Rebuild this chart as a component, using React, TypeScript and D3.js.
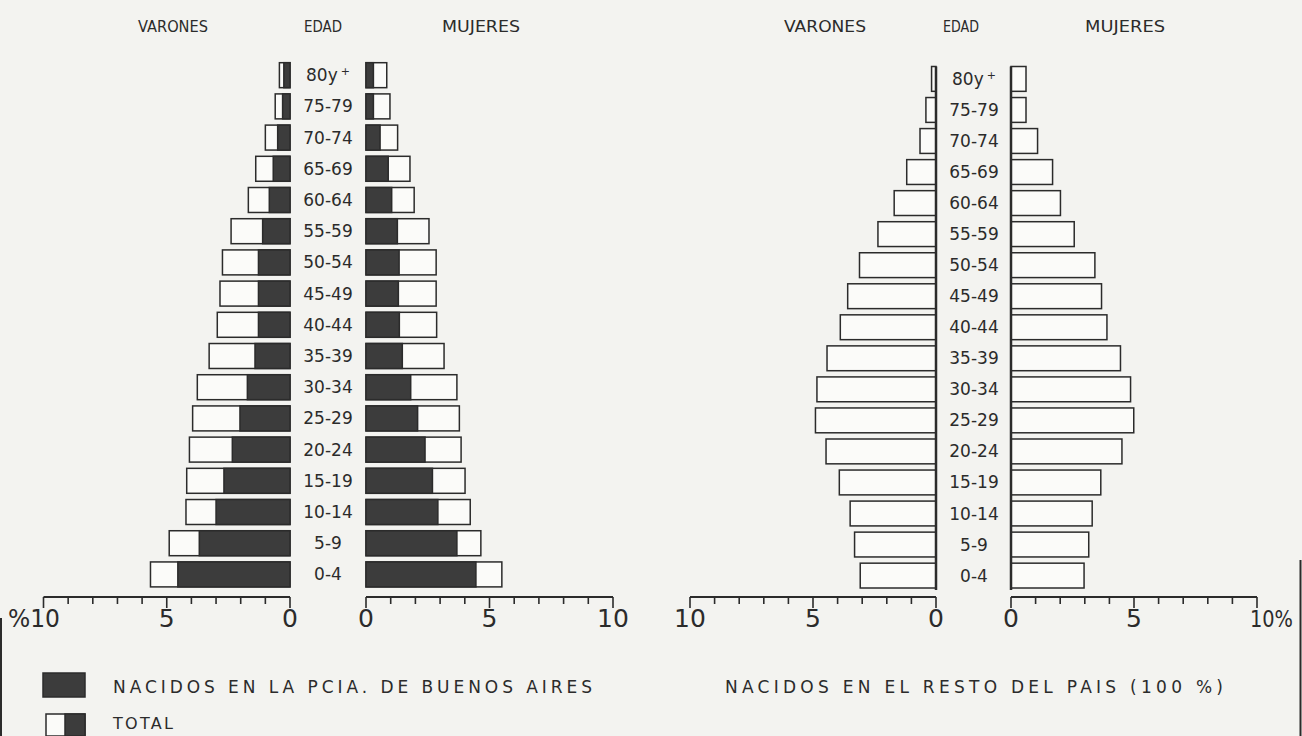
import React from "react";
import * as d3 from "d3";

// age groups, top to bottom
const ages = [
  "80y+", "75-79", "70-74", "65-69", "60-64", "55-59", "50-54", "45-49", "40-44",
  "35-39", "30-34", "25-29", "20-24", "15-19", "10-14", "5-9", "0-4",
];

// left pyramid: total population and those born in the province (percent)
const menTotal = [0.43, 0.6, 1.0, 1.39, 1.69, 2.39, 2.74, 2.84, 2.95, 3.28, 3.76, 3.95, 4.08, 4.19, 4.22, 4.9, 5.66];
const menBA = [0.25, 0.3, 0.5, 0.68, 0.84, 1.11, 1.28, 1.28, 1.28, 1.42, 1.73, 2.03, 2.34, 2.68, 3.0, 3.68, 4.55];
const womenTotal = [0.84, 0.97, 1.28, 1.78, 1.95, 2.55, 2.84, 2.84, 2.86, 3.16, 3.68, 3.78, 3.85, 4.01, 4.22, 4.65, 5.5];
const womenBA = [0.3, 0.3, 0.57, 0.9, 1.04, 1.27, 1.34, 1.31, 1.35, 1.47, 1.81, 2.09, 2.39, 2.69, 2.91, 3.68, 4.45];

// right pyramid: born in the rest of the country
const menRest = [0.18, 0.41, 0.65, 1.19, 1.7, 2.36, 3.11, 3.59, 3.89, 4.43, 4.84, 4.9, 4.47, 3.93, 3.49, 3.31, 3.08];
const womenRest = [0.61, 0.61, 1.08, 1.69, 2.01, 2.57, 3.41, 3.68, 3.9, 4.45, 4.86, 4.99, 4.51, 3.65, 3.3, 3.16, 2.97];

const tickValues = d3.range(0, 11);
const labelTicks = [0, 5, 10];

const W = 1302;
const H = 736;
const INK = "#2b2b2b";
const DARK = "#3c3c3c";
const PAPER = "#f3f3f0";
const BOX = "#fbfbf9";
const FONT = "'DejaVu Sans', 'Noto Sans', sans-serif";
const AXIS_Y = 597;
const LABEL_Y = AXIS_Y + 30;

function Axis({ scale, skip }: { scale: d3.ScaleLinear<number, number>; skip?: number }) {
  const [a, b] = scale.range();
  return (
    <g>
      <line x1={a} x2={b} y1={AXIS_Y} y2={AXIS_Y} stroke={INK} strokeWidth={2} />
      {tickValues.map((t) => (
        <line
          key={t}
          x1={scale(t)}
          x2={scale(t)}
          y1={AXIS_Y}
          y2={AXIS_Y + (t % 5 === 0 ? 11 : 7)}
          stroke={INK}
          strokeWidth={1.6}
        />
      ))}
      {labelTicks
        .filter((t) => t !== skip)
        .map((t) => (
          <text
            key={t}
            x={scale(t)}
            y={LABEL_Y}
            textAnchor="middle"
            fontSize={25}
            fill={INK}
            fontFamily={FONT}
          >
            {t}
          </text>
        ))}
    </g>
  );
}

function AgeLabels({ y, cx }: { y: d3.ScaleBand<string>; cx: number }) {
  return (
    <g>
      {ages.map((a) => (
        <text
          key={a}
          x={cx}
          y={(y(a) as number) + y.bandwidth() / 2 + 6}
          textAnchor="middle"
          fontSize={17}
          fill={INK}
          fontFamily={FONT}
        >
          {a === "80y+" ? (
            <>
              80y<tspan fontSize={11} dy={-6} dx={3}>+</tspan>
            </>
          ) : (
            a
          )}
        </text>
      ))}
    </g>
  );
}

export default function App() {
  // left pyramid scales
  const xMenL = d3.scaleLinear().domain([0, 10]).range([290, 43.5]);
  const xWomenL = d3.scaleLinear().domain([0, 10]).range([366, 613]);
  const yL = d3.scaleBand<string>().domain(ages).range([62.7, 586.9]).paddingInner(0.2);

  // right pyramid scales
  const xMenR = d3.scaleLinear().domain([0, 10]).range([936, 690]);
  const xWomenR = d3.scaleLinear().domain([0, 10]).range([1011, 1257]);
  const yR = d3.scaleBand<string>().domain(ages).range([66.5, 588]).paddingInner(0.2);

  const bw = yL.bandwidth();
  const bwR = yR.bandwidth();

  return (
    <svg
      width={W}
      height={H}
      style={{ position: "absolute", left: 0, top: 0, background: PAPER }}
    >
      <rect x={0} y={0} width={W} height={H} fill={PAPER} />

      {/* headers */}
      {[
        { t: "VARONES", x: 173, w: 70 },
        { t: "EDAD", x: 323, w: 38 },
        { t: "MUJERES", x: 481, w: 78 },
        { t: "VARONES", x: 825, w: 82 },
        { t: "EDAD", x: 961, w: 36 },
        { t: "MUJERES", x: 1125, w: 80 },
      ].map((h, i) => (
        <text
          key={i}
          x={h.x}
          y={32}
          textAnchor="middle"
          fontSize={15}
          fill={INK}
          fontFamily={FONT}
          textLength={h.w}
          lengthAdjust="spacingAndGlyphs"
        >
          {h.t}
        </text>
      ))}

      {/* left pyramid: totals then province-born */}
      <g stroke={INK} strokeWidth={1.5}>
        {ages.map((a, i) => (
          <g key={a}>
            <rect
              x={xMenL(menTotal[i])}
              y={yL(a)}
              width={xMenL(0) - xMenL(menTotal[i])}
              height={bw}
              fill={BOX}
            />
            <rect
              x={xMenL(menBA[i])}
              y={yL(a)}
              width={xMenL(0) - xMenL(menBA[i])}
              height={bw}
              fill={DARK}
            />
            <rect
              x={xWomenL(0)}
              y={yL(a)}
              width={xWomenL(womenTotal[i]) - xWomenL(0)}
              height={bw}
              fill={BOX}
            />
            <rect
              x={xWomenL(0)}
              y={yL(a)}
              width={xWomenL(womenBA[i]) - xWomenL(0)}
              height={bw}
              fill={DARK}
            />
          </g>
        ))}
      </g>
      <AgeLabels y={yL} cx={328} />
      <Axis scale={xMenL} skip={10} />
      <Axis scale={xWomenL} />
      <text x={8} y={LABEL_Y} fontSize={24} fill={INK} fontFamily={FONT} textLength={52} lengthAdjust="spacingAndGlyphs">
        %10
      </text>

      {/* right pyramid */}
      <g stroke={INK} strokeWidth={1.5}>
        {ages.map((a, i) => (
          <g key={a}>
            <rect
              x={xMenR(menRest[i])}
              y={yR(a)}
              width={xMenR(0) - xMenR(menRest[i])}
              height={bwR}
              fill={BOX}
            />
            <rect
              x={xWomenR(0)}
              y={yR(a)}
              width={xWomenR(womenRest[i]) - xWomenR(0)}
              height={bwR}
              fill={BOX}
            />
          </g>
        ))}
      </g>
      <line x1={xMenR(0)} x2={xMenR(0)} y1={yR(ages[0])} y2={590} stroke={INK} strokeWidth={2.5} />
      <line x1={xWomenR(0)} x2={xWomenR(0)} y1={yR(ages[0])} y2={590} stroke={INK} strokeWidth={2.5} />
      <AgeLabels y={yR} cx={974} />
      <Axis scale={xMenR} />
      <Axis scale={xWomenR} skip={10} />
      <text x={1250} y={LABEL_Y} fontSize={23} fill={INK} fontFamily={FONT} textLength={43} lengthAdjust="spacingAndGlyphs">
        10%
      </text>

      {/* legend */}
      <rect x={43} y={673} width={42} height={24} fill={DARK} stroke={INK} strokeWidth={1.5} />
      <text x={113} y={693} fontSize={17} fill={INK} fontFamily={FONT} textLength={479} lengthAdjust="spacing">
        NACIDOS   EN   LA   PCIA. DE  BUENOS  AIRES
      </text>
      <rect x={46} y={714} width={39} height={22} fill={BOX} stroke={INK} strokeWidth={1.5} />
      <rect x={65} y={714} width={20} height={22} fill={DARK} stroke={INK} strokeWidth={1.5} />
      <text x={113} y={729} fontSize={16} fill={INK} fontFamily={FONT} textLength={60} lengthAdjust="spacing">
        TOTAL
      </text>
      <text x={725} y={693} fontSize={17} fill={INK} fontFamily={FONT} textLength={498} lengthAdjust="spacing">
        NACIDOS   EN   EL   RESTO   DEL   PAIS  (100 %)
      </text>

      {/* scan frame edges */}
      <line x1={1} x2={1} y1={618} y2={H} stroke={INK} strokeWidth={2} />
      <line x1={1300.5} x2={1300.5} y1={560} y2={H} stroke={INK} strokeWidth={2} />
    </svg>
  );
}
